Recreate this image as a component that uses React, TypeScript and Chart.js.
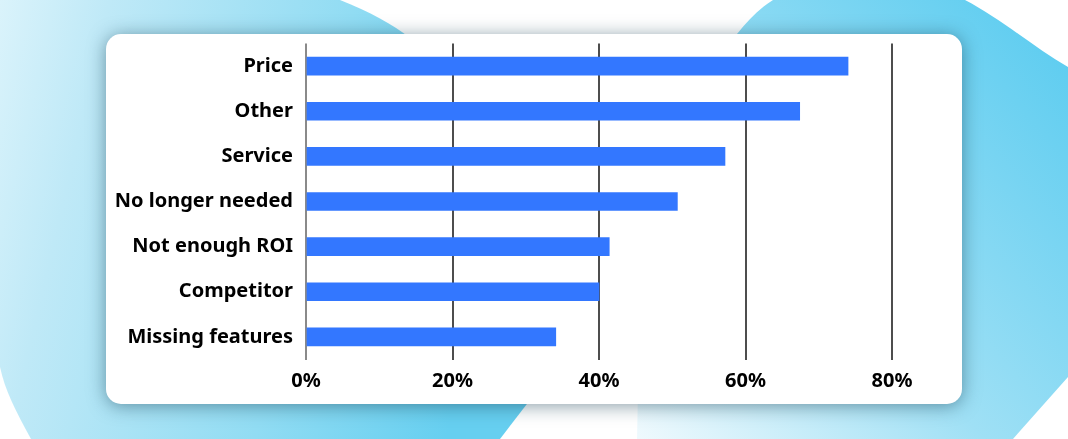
import React, { useEffect, useRef } from "react";
import { Chart, registerables } from "chart.js";

Chart.register(...registerables);

const categories = [
  "Price",
  "Other",
  "Service",
  "No longer needed",
  "Not enough ROI",
  "Competitor",
  "Missing features",
];
const values = [74, 67.4, 57.2, 50.7, 41.4, 40, 34.1];
const xTickLabels = ["0%", "20%", "40%", "60%", "80%"];

const FONT = "'Noto Sans', sans-serif";

export default function App() {
  const ref = useRef<HTMLCanvasElement | null>(null);

  useEffect(() => {
    if (!ref.current) return;
    const chart = new Chart(ref.current, {
      type: "bar",
      data: {
        labels: categories,
        datasets: [
          {
            data: values,
            backgroundColor: "#3377ff",
            borderWidth: 0,
            barThickness: 18,
          },
        ],
      },
      options: {
        indexAxis: "y",
        responsive: false,
        animation: false,
        layout: { padding: { top: 9.5, right: 70, left: 0, bottom: 0 } },
        plugins: { legend: { display: false }, tooltip: { enabled: false } },
        scales: {
          x: {
            min: 0,
            max: 80,
            ticks: {
              stepSize: 20,
              callback: (_v: any, i: number) => xTickLabels[i],
              color: "#000",
              font: { family: FONT, size: 20, weight: "bold" },
              padding: 10,
              maxRotation: 0,
            },
            grid: {
              color: (ctx: any) => (ctx.index === 0 ? "#8a8a8a" : "#4d4d4d"),
              lineWidth: 2,
              drawTicks: false,
            },
            border: { display: false },
            afterFit: (s: any) => {
              s.height = 44.5;
              s.paddingLeft = 0;
              s.paddingRight = 0;
            },
          },
          y: {
            grid: { display: false, drawTicks: false },
            border: { display: false },
            ticks: {
              color: "#000",
              font: { family: FONT, size: 20, weight: "bold" },
              padding: 13,
            },
            afterFit: (s: any) => {
              s.width = 200;
              s.paddingTop = 0;
              s.paddingBottom = 0;
            },
          },
        },
      },
    });
    return () => chart.destroy();
  }, []);

  return (
    <div
      style={{
        position: "absolute",
        left: 0,
        top: 0,
        width: 1068,
        height: 439,
        overflow: "hidden",
        background: "#ffffff",
      }}
    >
      <svg
        width={1068}
        height={439}
        style={{ position: "absolute", left: 0, top: 0 }}
      >
        <defs>
          <linearGradient
            id="gl"
            gradientUnits="userSpaceOnUse"
            x1="0"
            y1="0"
            x2="520"
            y2="120"
          >
            <stop offset="0" stopColor="#daf3fb" />
            <stop offset="0.2" stopColor="#bfe9f7" />
            <stop offset="0.65" stopColor="#91dcf3" />
            <stop offset="1" stopColor="#66cff0" />
          </linearGradient>
          <linearGradient
            id="gr"
            gradientUnits="userSpaceOnUse"
            x1="640"
            y1="439"
            x2="1068"
            y2="60"
          >
            <stop offset="0" stopColor="#eef9fd" />
            <stop offset="0.45" stopColor="#9fe0f5" />
            <stop offset="1" stopColor="#5fcdf0" />
          </linearGradient>
        </defs>
        <path
          d="M0,0 L340,0 C370,12 392,24 410,38 L530,400 L500,439 L31,439 C15,410 5,390 0,367 Z"
          fill="url(#gl)"
        />
        <path
          d="M773,0 L965,0 C1000,18 1035,48 1068,67 L1068,377 L1013,439 L637,439 L640,300 L737,34 C748,20 760,8 773,0 Z"
          fill="url(#gr)"
        />
      </svg>
      <div
        style={{
          position: "absolute",
          left: 106,
          top: 34,
          width: 856,
          height: 370,
          background: "#ffffff",
          borderRadius: 15,
          boxShadow: "0 2px 18px rgba(20,60,80,0.5)",
        }}
      >
        <canvas
          ref={ref}
          width={856}
          height={370}
          style={{ position: "absolute", left: 0, top: 0 }}
        />
      </div>
    </div>
  );
}
